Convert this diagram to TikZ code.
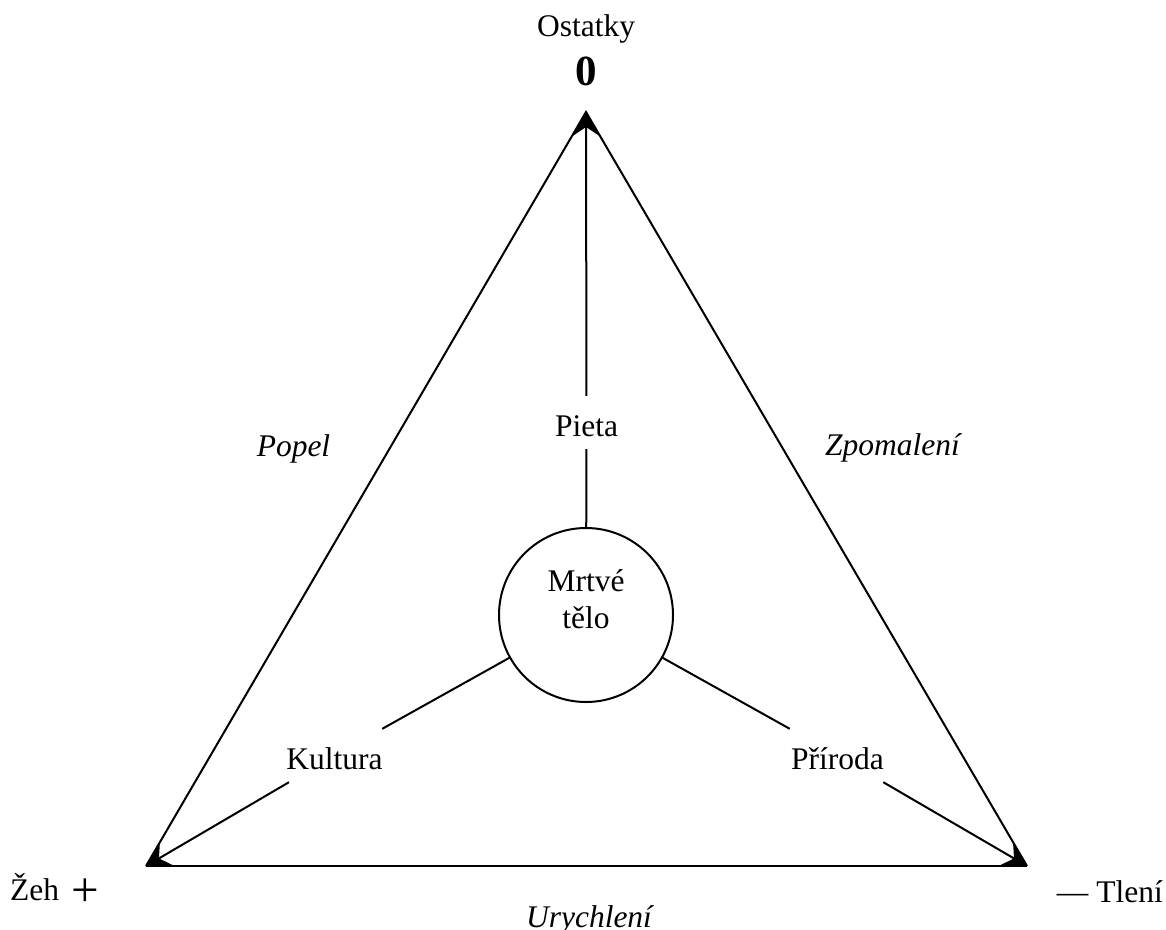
\documentclass[tikz,border=0pt]{standalone}
\usepackage{fontspec}
\setmainfont{Liberation Serif}
\usetikzlibrary{arrows.meta}
\begin{document}
\begin{tikzpicture}[x=1pt,y=-1pt,
  every node/.style={font=\fontsize{31.5}{37}\selectfont, inner sep=0pt},
  edge/.style={line width=2pt},
  baseedge/.style={line width=2.8pt},
  spoke/.style={line width=2pt},
  tipspoke/.style={line width=2pt, -{Stealth[length=24pt,width=27pt,inset=9pt]}},
  spokelabel/.style={text height=27pt, text depth=0pt, inner xsep=4pt, inner ysep=13pt},
  bodycircle/.style={circle, draw, line width=2pt, minimum size=174pt, inner sep=0pt},
  sidelabel/.style={font=\fontsize{31.5}{37}\selectfont\itshape, anchor=base}
]
\useasboundingbox (0,0) rectangle (1166,929);

% vertices
\coordinate (A) at (586,112);
\coordinate (B) at (146,866);
\coordinate (C) at (1027,866);

% triangle
\draw[edge] (B) -- (A) -- (C);
\draw[baseedge] (B) -- (C);

% centre and labels
\node[bodycircle] (body) at (586,615) {};
\node[anchor=base] (bodytext) at (586,591) {\begin{tabular}[t]{@{}c@{}}Mrtvé\\tělo\end{tabular}};

\node[spokelabel] (pieta) at (586.5,422.5) {Pieta};
\node[spokelabel] (kultura) at (334.5,755.5) {Kultura};
\node[spokelabel] (priroda) at (837.5,755.5) {Příroda};

% spokes
\draw[spoke] (body) -- (pieta);
\draw[tipspoke] (pieta) -- (A);
\draw[spoke] (body) -- (kultura);
\draw[tipspoke] (kultura) -- (B);
\draw[spoke] (body) -- (priroda);
\draw[tipspoke] (priroda) -- (C);

% pole labels
\node[anchor=base] (ostatky) at (586,36) {Ostatky};
\node[anchor=base, font=\fontsize{43}{45}\selectfont\bfseries] (zero) at (586,85) {0};
\node[anchor=base west] (zeh) at (10,900) {Žeh\hspace{12pt}\raisebox{-6pt}{\fontsize{49}{50}\selectfont +}};
\node[anchor=base east] (tleni) at (1163,902) {— Tlení};

% side labels
\node[sidelabel] (popel) at (293.5,456) {Popel};
\node[sidelabel] (zpomaleni) at (892.5,455) {Zpomalení};
\node[sidelabel] (urychleni) at (589,927) {Urychlení};
\end{tikzpicture}
\end{document}
